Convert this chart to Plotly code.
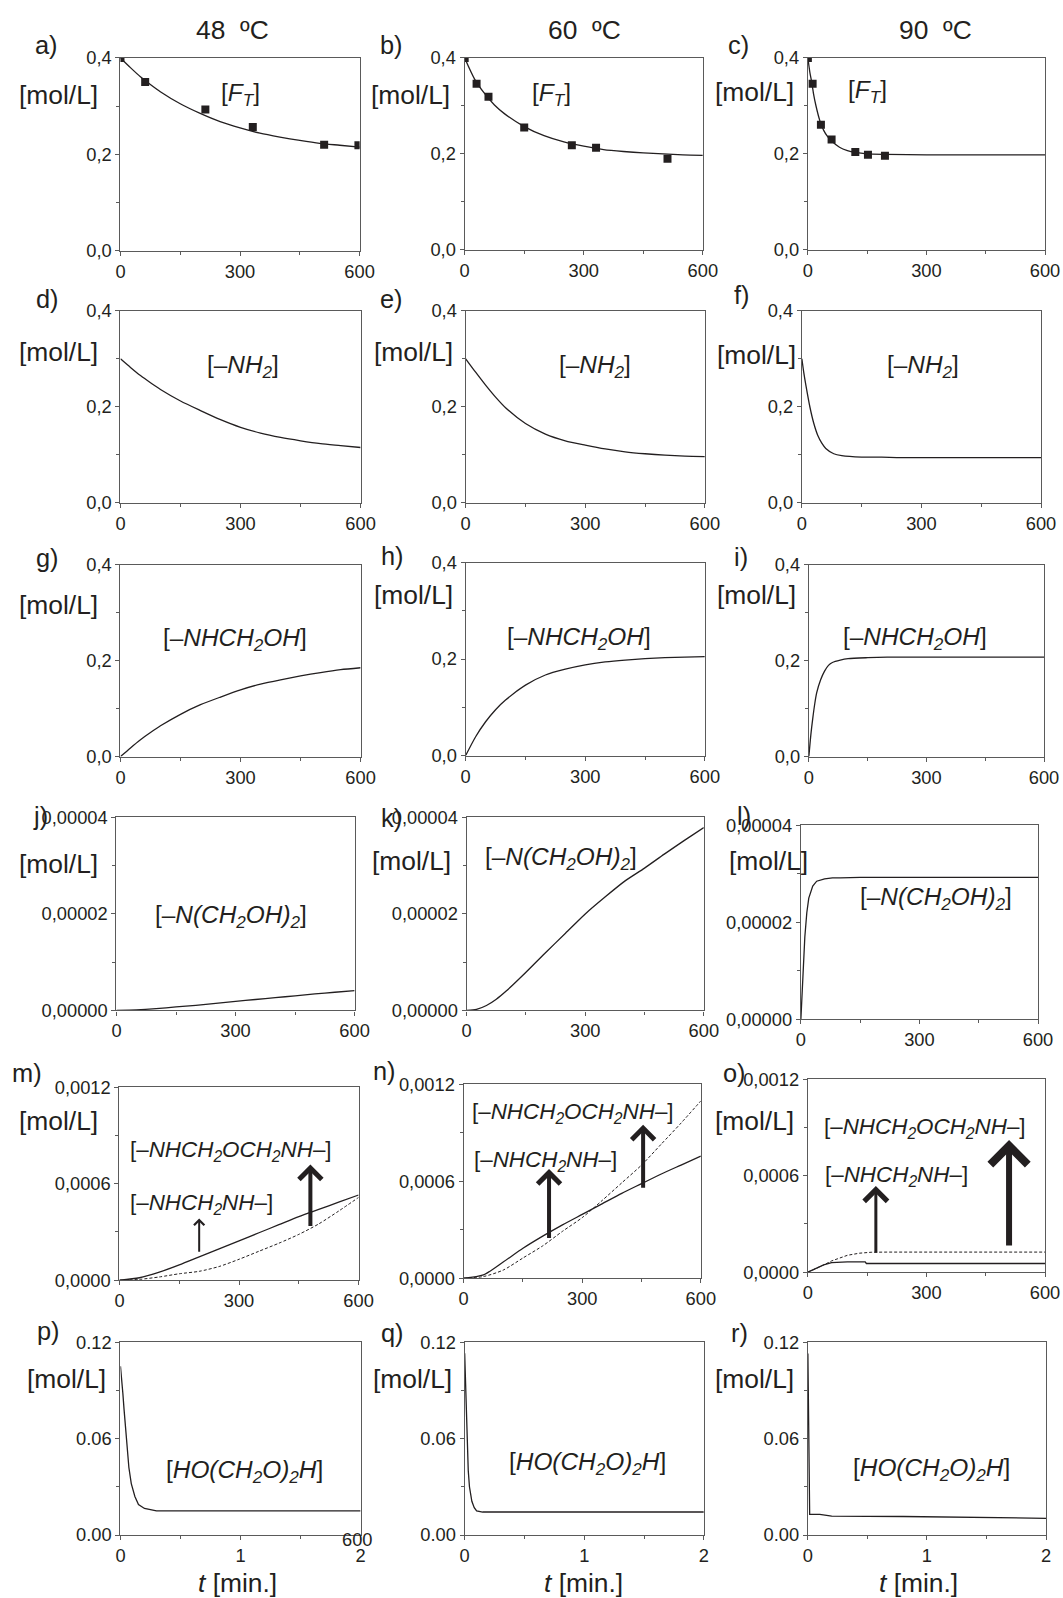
import plotly.graph_objects as go

W, H = 1063, 1598
FONT = "Liberation Sans, Arial, sans-serif"
INK = "#231f20"
AXC = "#5a5a5a"

# ---------------- data ----------------
T_STD = [0, 25, 50, 75, 100, 150, 200, 250, 300, 350, 400, 450, 500, 550, 600]

# [F_T]
FT_48 = [0.400, 0.380, 0.361, 0.345, 0.330, 0.305, 0.285, 0.268, 0.255, 0.244, 0.236, 0.229, 0.223, 0.219, 0.215]
FT_48_PTS_T = [0, 62, 213, 332, 511, 597]
FT_48_PTS = [0.400, 0.350, 0.293, 0.257, 0.220, 0.219]
FT_60 = [0.400, 0.356, 0.326, 0.302, 0.284, 0.257, 0.238, 0.225, 0.216, 0.209, 0.205, 0.202, 0.200, 0.198, 0.197]
FT_60_PTS_T = [0, 30, 60, 150, 270, 331, 511]
FT_60_PTS = [0.400, 0.346, 0.319, 0.255, 0.218, 0.213, 0.190]
FT_90_T = [0, 5, 10, 15, 20, 30, 40, 50, 60, 80, 100, 120, 150, 200, 300, 400, 500, 600]
FT_90 = [0.400, 0.370, 0.348, 0.322, 0.302, 0.270, 0.249, 0.236, 0.227, 0.214, 0.207, 0.203, 0.200, 0.199, 0.198, 0.198, 0.198, 0.198]
FT_90_PTS_T = [0, 12, 33, 60, 120, 152, 195]
FT_90_PTS = [0.400, 0.346, 0.261, 0.230, 0.204, 0.198, 0.196]

# [-NH2]
NH2_48 = [0.300, 0.282, 0.265, 0.250, 0.236, 0.212, 0.192, 0.173, 0.157, 0.145, 0.136, 0.129, 0.123, 0.119, 0.115]
NH2_60 = [0.300, 0.272, 0.245, 0.220, 0.198, 0.165, 0.143, 0.129, 0.120, 0.112, 0.106, 0.102, 0.099, 0.097, 0.096]
NH2_90_T = [0, 5, 10, 20, 30, 40, 50, 60, 80, 100, 150, 200, 250, 600]
NH2_90 = [0.300, 0.270, 0.245, 0.200, 0.165, 0.140, 0.124, 0.113, 0.102, 0.098, 0.095, 0.095, 0.094, 0.094]

# [-NHCH2OH]
MET_48 = [0.0, 0.018, 0.035, 0.050, 0.064, 0.088, 0.108, 0.124, 0.139, 0.151, 0.160, 0.168, 0.175, 0.181, 0.185]
MET_60 = [0.0, 0.039, 0.070, 0.095, 0.115, 0.146, 0.167, 0.179, 0.188, 0.194, 0.198, 0.201, 0.203, 0.204, 0.205]
MET_90_T = [0, 5, 10, 15, 20, 30, 40, 50, 60, 80, 100, 150, 200, 600]
MET_90 = [0.0, 0.045, 0.080, 0.110, 0.133, 0.160, 0.178, 0.190, 0.196, 0.201, 0.204, 0.206, 0.207, 0.207]

# [-N(CH2OH)2]
DIM_48_T = [0, 50, 100, 150, 200, 250, 300, 350, 400, 450, 500, 550, 600]
DIM_48 = [0.0, 0.1e-6, 0.35e-6, 0.7e-6, 1.05e-6, 1.45e-6, 1.85e-6, 2.25e-6, 2.65e-6, 3.0e-6, 3.4e-6, 3.75e-6, 4.1e-6]
DIM_60 = [0.0, 0.2e-6, 1.0e-6, 2.3e-6, 4.0e-6, 7.9e-6, 12.0e-6, 16.0e-6, 20.0e-6, 23.5e-6, 26.8e-6, 29.5e-6, 32.4e-6, 35.2e-6, 37.9e-6]
DIM_90_T = [0, 5, 10, 15, 20, 30, 40, 60, 80, 100, 150, 600]
DIM_90 = [0.0, 9e-6, 17e-6, 22e-6, 25e-6, 27.5e-6, 28.5e-6, 29e-6, 29.2e-6, 29.2e-6, 29.3e-6, 29.3e-6]

# [-NHCH2NH-] (solid) and [-NHCH2OCH2NH-] (dashed)
T_M = [0, 50, 100, 150, 200, 250, 300, 350, 400, 450, 500, 550, 600]
BR_48 = [0.0, 0.15e-4, 0.5e-4, 0.95e-4, 1.45e-4, 1.95e-4, 2.45e-4, 2.95e-4, 3.45e-4, 3.95e-4, 4.4e-4, 4.85e-4, 5.3e-4]
ET_48 = [0.0, 0.05e-4, 0.2e-4, 0.4e-4, 0.55e-4, 0.85e-4, 1.3e-4, 1.8e-4, 2.3e-4, 2.85e-4, 3.5e-4, 4.3e-4, 5.15e-4]
BR_60 = [0.0, 0.2e-4, 1.0e-4, 1.85e-4, 2.6e-4, 3.3e-4, 3.95e-4, 4.6e-4, 5.25e-4, 5.85e-4, 6.45e-4, 7.0e-4, 7.55e-4]
ET_60 = [0.0, 0.1e-4, 0.5e-4, 1.25e-4, 2.0e-4, 2.9e-4, 3.75e-4, 4.8e-4, 5.9e-4, 7.0e-4, 8.3e-4, 9.6e-4, 10.97e-4]
BR_90_T = [0, 20, 40, 60, 80, 100, 145, 148, 200, 600]
BR_90 = [0.0, 0.25e-4, 0.45e-4, 0.6e-4, 0.64e-4, 0.64e-4, 0.64e-4, 0.54e-4, 0.54e-4, 0.54e-4]
ET_90_T = [0, 20, 40, 60, 80, 100, 130, 160, 200, 600]
ET_90 = [0.0, 0.2e-4, 0.45e-4, 0.7e-4, 0.9e-4, 1.05e-4, 1.18e-4, 1.24e-4, 1.25e-4, 1.25e-4]

# [HO(CH2O)2H]  (t in min.)
HO_48_T = [0, 0.01, 0.02, 0.03, 0.05, 0.07, 0.09, 0.12, 0.15, 0.2, 0.3, 0.5, 2]
HO_48 = [0.105, 0.098, 0.088, 0.078, 0.058, 0.042, 0.032, 0.024, 0.019, 0.0165, 0.015, 0.015, 0.015]
HO_60_T = [0, 0.01, 0.02, 0.03, 0.04, 0.06, 0.08, 0.1, 0.15, 2]
HO_60 = [0.113, 0.085, 0.058, 0.040, 0.030, 0.021, 0.017, 0.015, 0.0143, 0.0143]
HO_90_T = [0, 0.003, 0.006, 0.01, 0.015, 0.1, 0.2, 0.8, 1.5, 2]
HO_90 = [0.113, 0.09, 0.05, 0.02, 0.0128, 0.0128, 0.0118, 0.0115, 0.0106, 0.0104]

# tick labels
X_TICKS = [0, 300, 600]
X_TICKTEXT = ["0", "300", "600"]
XT_TICKS = [0, 1, 2]
XT_TICKTEXT = ["0", "1", "2"]
Y_CONC = [0, 0.2, 0.4]
Y_CONC_TEXT = ["0,0", "0,2", "0,4"]
Y_DIM = [0, 0.00002, 0.00004]
Y_DIM_TEXT = ["0,00000", "0,00002", "0,00004"]
Y_BR = [0, 0.0006, 0.0012]
Y_BR_TEXT = ["0,0000", "0,0006", "0,0012"]
Y_HO = [0, 0.06, 0.12]
Y_HO_TEXT = ["0.00", "0.06", "0.12"]

TITLES = ["48\u00a0\u00a0ºC", "60\u00a0\u00a0ºC", "90\u00a0\u00a0ºC"]

# ---------------- layout helpers ----------------
# the captured page comes out slightly scaled/offset; pre-compensate
SX, OX = 0.9806, 4.6
SY, OY = 0.9875, 9.0
FS = 1.0 / 0.984


def clamp(v):
    return max(0.0, min(1.0, v))


def tx(x):
    return (x - OX) / SX


def ty(y):
    return (y - OY) / SY


def px(x, y):
    return clamp(tx(x) / W), clamp(1 - ty(y) / H)


def fs(s):
    return round(s * FS, 1)

# panel: (x0,x1,top,bottom) in target pixels
PANELS = [
    (120, 359, 56, 249), (464, 702, 56, 248), (807, 1044, 56, 248),
    (120, 360, 309, 501), (465, 704, 309, 501), (801, 1040, 309, 501),
    (120, 360, 563, 755), (465, 704, 561, 754), (808, 1043, 563, 755),
    (116, 354, 816, 1009), (466, 703, 816, 1009), (800, 1037, 824, 1018),
    (119, 358, 1086, 1279), (463, 700, 1083, 1277), (807, 1044, 1078, 1271),
    (120, 360, 1341, 1534), (464, 703, 1341, 1534), (807, 1045, 1341, 1534),
]

ROW_Y = [
    (Y_CONC, Y_CONC_TEXT, [0, 0.4], 0.1),
    (Y_CONC, Y_CONC_TEXT, [0, 0.4], 0.1),
    (Y_CONC, Y_CONC_TEXT, [0, 0.4], 0.1),
    (Y_DIM, Y_DIM_TEXT, [0, 0.00004], 0.00001),
    (Y_BR, Y_BR_TEXT, [0, 0.0012], 0.0003),
    (Y_HO, Y_HO_TEXT, [0, 0.12], 0.03),
]

fig = go.Figure()
layout = dict(
    width=W, height=H, margin=dict(l=0, r=0, t=0, b=0),
    paper_bgcolor="white", plot_bgcolor="white", showlegend=False,
    font=dict(family=FONT, color=INK),
)

for i, (x0, x1, top, bot) in enumerate(PANELS):
    n = i + 1
    sfx = "" if n == 1 else str(n)
    row = i // 3
    yt, ytt, yr, ydt = ROW_Y[row]
    if row == 5:
        xt, xtt, xr, xdt = XT_TICKS, XT_TICKTEXT, [0, 2], 0.5
    else:
        xt, xtt, xr, xdt = X_TICKS, X_TICKTEXT, [0, 600], 150
    common = dict(showline=True, linecolor=AXC, linewidth=1.3, mirror=True,
                  ticks="outside", ticklen=4, tickcolor=AXC, tickwidth=1,
                  showgrid=False, zeroline=False, fixedrange=True,
                  tickfont=dict(family=FONT, size=fs(18), color=INK))
    layout["xaxis" + sfx] = dict(
        common, domain=[clamp(tx(x0) / W), clamp(tx(x1) / W)], range=xr, anchor="y" + sfx,
        tickmode="array", tickvals=xt, ticktext=xtt,
        minor=dict(dtick=xdt, tick0=0, ticks="outside", ticklen=3, tickcolor=AXC))
    layout["yaxis" + sfx] = dict(
        common, domain=[clamp(1 - ty(bot) / H), clamp(1 - ty(top) / H)], range=yr,
        anchor="x" + sfx, tickmode="array", tickvals=yt, ticktext=ytt,
        minor=dict(dtick=ydt, tick0=0, ticks="outside", ticklen=3, tickcolor=AXC))


def ax_ids(n):
    return ("x" if n == 1 else "x%d" % n), ("y" if n == 1 else "y%d" % n)


def line(n, t, v, dash="solid", shape="spline", width=1.3):
    xa, ya = ax_ids(n)
    fig.add_trace(go.Scatter(x=t, y=v, mode="lines", xaxis=xa, yaxis=ya,
                             line=dict(color=INK, width=width, dash=dash, shape=shape,
                                       smoothing=0.7 if shape == "spline" else None),
                             hoverinfo="skip"))


def pts(n, t, v):
    xa, ya = ax_ids(n)
    fig.add_trace(go.Scatter(x=t, y=v, mode="markers", xaxis=xa, yaxis=ya,
                             marker=dict(symbol="square", size=8, color=INK),
                             hoverinfo="skip"))

# row 1
line(1, T_STD, FT_48); pts(1, FT_48_PTS_T, FT_48_PTS)
line(2, T_STD, FT_60); pts(2, FT_60_PTS_T, FT_60_PTS)
line(3, FT_90_T, FT_90); pts(3, FT_90_PTS_T, FT_90_PTS)
# row 2
line(4, T_STD, NH2_48)
line(5, T_STD, NH2_60)
line(6, NH2_90_T, NH2_90)
# row 3
line(7, T_STD, MET_48)
line(8, T_STD, MET_60)
line(9, MET_90_T, MET_90)
# row 4
line(10, DIM_48_T, DIM_48)
line(11, T_STD, DIM_60)
line(12, DIM_90_T, DIM_90, shape="linear")
# row 5
line(13, T_M, BR_48)
line(13, T_M, ET_48, dash="3px,2px", width=1)
line(14, T_M, BR_60)
line(14, T_M, ET_60, dash="3px,2px", width=1)
line(15, BR_90_T, BR_90, shape="linear")
line(15, ET_90_T, ET_90, dash="3px,2px", width=1, shape="linear")
# row 6
line(16, HO_48_T, HO_48, shape="linear")
line(17, HO_60_T, HO_60, shape="linear")
line(18, HO_90_T, HO_90, shape="linear")

ann = []


def text(x, y, s, size=24, xanchor="left"):
    X, Y = px(x, y)
    ann.append(dict(x=X, y=Y, xref="paper", yref="paper", text=s, showarrow=False,
                    xanchor=xanchor, yanchor="middle",
                    font=dict(family=FONT, size=fs(size), color=INK)))

# column titles
for cx, s in zip([232, 584, 935], TITLES):
    text(cx, 28, s, size=26, xanchor="center")

# panel letters
LETTERS = [
    ("a)", 33, 43), ("b)", 377, 43), ("c)", 725, 43),
    ("d)", 34, 297), ("e)", 377, 297), ("f)", 731, 293),
    ("g)", 34, 556), ("h)", 378, 554), ("i)", 731, 555),
    ("j)", 31, 815), ("k)", 378, 817), ("l)", 734, 815),
    ("m)", 10, 1072), ("n)", 370, 1070), ("o)", 720, 1072),
    ("p)", 35, 1330), ("q)", 378, 1332), ("r)", 728, 1332),
]
for s, x, y in LETTERS:
    text(x, y, s, size=25)

# [mol/L] labels
MOL = [(17, 93), (368, 93), (712, 90), (17, 350), (371, 350), (714, 353),
       (17, 603), (371, 593), (714, 593), (17, 863), (369, 860), (726, 860),
       (17, 1120), (712, 1120), (25, 1378), (370, 1378), (712, 1378)]
for x, y in MOL:
    text(x, y, "[mol/L]", size=26)

FT = "[<i>F<sub>T</sub></i>]"
NH2 = "[–<i>NH<sub>2</sub></i>]"
MET = "[–<i>NHCH<sub>2</sub>OH</i>]"
DIM = "[–<i>N(CH<sub>2</sub>OH)<sub>2</sub></i>]"
ETH = "[–<i>NHCH<sub>2</sub>OCH<sub>2</sub>NH</i>–]"
BRG = "[–<i>NHCH<sub>2</sub>NH</i>–]"
HOF = "[<i>HO(CH<sub>2</sub>O)<sub>2</sub>H</i>]"

for s, x, y in [(FT, 240, 93), (FT, 551, 93), (FT, 867, 90),
                (NH2, 242, 365), (NH2, 594, 365), (NH2, 922, 365),
                (MET, 234, 638), (MET, 578, 637), (MET, 914, 637),
                (DIM, 230, 915), (DIM, 560, 857), (DIM, 935, 897),
                (HOF, 244, 1470), (HOF, 587, 1462), (HOF, 931, 1468)]:
    text(x, y, s, size=24, xanchor="center")

for s, x, y in [(ETH, 128, 1150), (BRG, 128, 1203),
                (ETH, 469, 1112), (BRG, 471, 1160),
                (ETH, 821, 1127), (BRG, 822, 1175)]:
    text(x, y, s, size=22)

# time axis labels
for cx in [237, 583, 918]:
    text(cx, 1582, "<i>t</i> [min.]", size=26, xanchor="center")

# stray label in panel p
text(357, 1538, "600", size=18, xanchor="center")

# arrows (tip x,y ; tail ax,ay) in data units
ARROWS = [
    (13, 200, 0.000384, 200, 0.000167, 2, 1.0),
    (13, 479, 0.000719, 479, 0.000328, 4, 1.1),
    (14, 216, 0.000675, 216, 0.00024, 4, 1.1),
    (14, 454, 0.00095, 454, 0.00055, 4, 1.1),
    (15, 172, 0.000536, 172, 0.000112, 3, 1.5),
    (15, 509, 0.000822, 509, 0.000156, 6, 1.2),
]
for n, x, y, axv, ayv, w, s in ARROWS:
    xa, ya = ax_ids(n)
    ann.append(dict(x=x, y=y, ax=axv, ay=ayv, xref=xa, yref=ya, axref=xa, ayref=ya,
                    text="", showarrow=True, arrowhead=4, arrowwidth=w, arrowsize=s,
                    arrowcolor=INK, standoff=0, startstandoff=0))

layout["annotations"] = ann
fig.update_layout(**layout)
fig.write_html(
    "out.html",
    config={"displayModeBar": False},
    post_script="document.body.style.margin='0';document.body.style.padding='0';"
                "document.body.style.overflow='hidden';",
)
